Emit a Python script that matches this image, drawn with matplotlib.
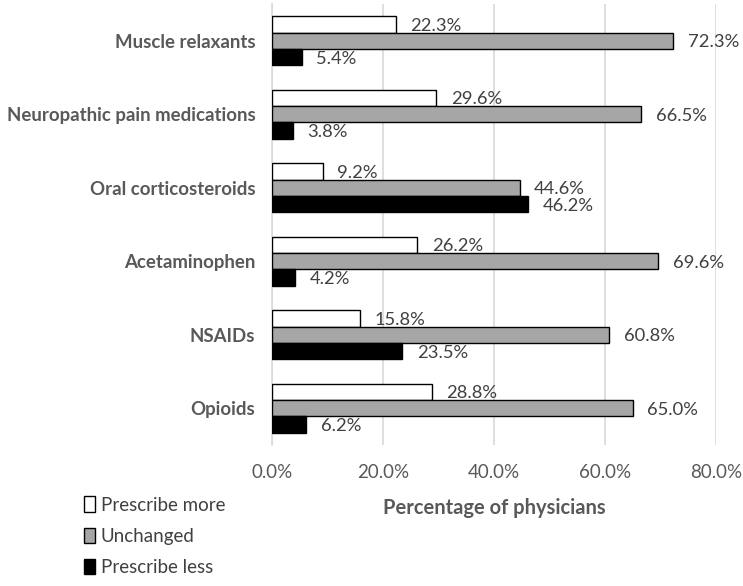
import numpy as np
import matplotlib.pyplot as plt

plt.rcParams['font.family'] = ['Lato', 'DejaVu Sans']

categories = ['Muscle relaxants', 'Neuropathic pain medications', 'Oral corticosteroids',
              'Acetaminophen', 'NSAIDs', 'Opioids']
prescribe_more = [22.3, 29.6, 9.2, 26.2, 15.8, 28.8]
unchanged = [72.3, 66.5, 44.6, 69.6, 60.8, 65.0]
prescribe_less = [5.4, 3.8, 46.2, 4.2, 23.5, 6.2]
series_names = ['Prescribe more', 'Unchanged', 'Prescribe less']
xticks = [0, 20, 40, 60, 80]

fig = plt.figure(figsize=(7.43, 5.86), dpi=100)
ax = fig.add_axes([0.366, 0.2406, 0.5977, 0.7524])

y = np.arange(len(categories))
h = 0.222
colors = ['white', '#a6a6a6', 'black']
offsets = [-h, 0, h]
for vals, off, col, name in zip([prescribe_more, unchanged, prescribe_less], offsets, colors, series_names):
    ax.barh(y + off, vals, height=h, color=col, edgecolor='black', linewidth=1.0, label=name, zorder=3)
    for v, yy in zip(vals, y + off):
        ax.text(v + 2.6, yy + 0.02, f'{v:.1f}%', va='center', ha='left', fontsize=13.2, color='#404040', zorder=4)

ax.set_ylim(len(categories) - 0.5, -0.5)
ax.set_xlim(0, 80)
ax.set_yticks(y)
ax.set_yticklabels(categories, fontsize=13.4, fontweight='bold', color='#595959')
ax.set_xticks(xticks)
ax.set_xticklabels([f'{t:.1f}%' for t in xticks], fontsize=13.5, color='#595959')
ax.tick_params(length=0)
ax.tick_params(axis='x', pad=14)
ax.tick_params(axis='y', pad=12)
ax.grid(axis='x', color='#d9d9d9', linewidth=1.2, zorder=0)
for s in ['top', 'right', 'bottom']:
    ax.spines[s].set_visible(False)
ax.spines['left'].set_color('#d9d9d9')
ax.spines['left'].set_linewidth(1.2)
ax.set_xlabel('Percentage of physicians', fontsize=14.5, fontweight='bold', color='#595959', labelpad=12)

fig.legend(loc='lower left', bbox_to_anchor=(0.09, -0.012), frameon=False, fontsize=13.5,
           handlelength=0.6, handleheight=0.9, handletextpad=0.3, labelspacing=0.75,
           labelcolor='#404040')

fig.savefig('out.png', dpi=100)
